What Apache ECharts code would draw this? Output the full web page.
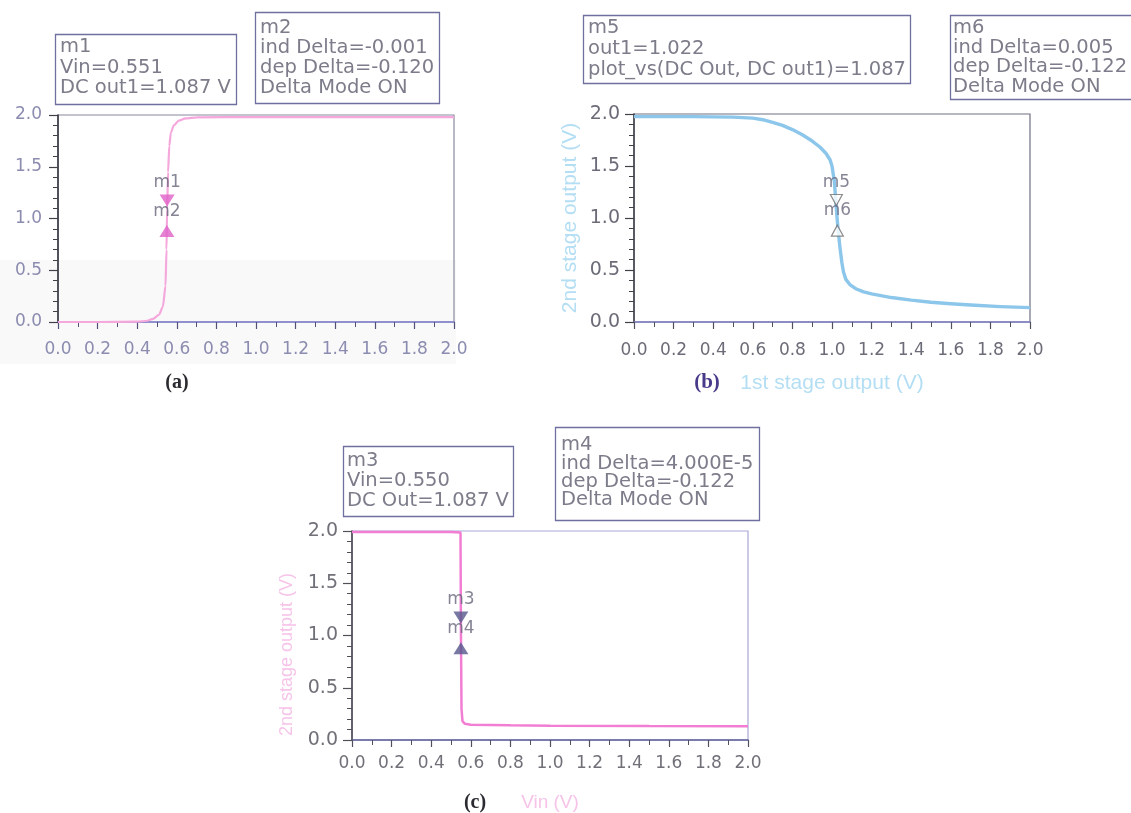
<!DOCTYPE html>
<html><head><meta charset="utf-8">
<script src="https://cdn.jsdelivr.net/npm/echarts@6/dist/echarts.min.js"></script>
<style>html,body{margin:0;padding:0;background:#fff}#c{width:1131px;height:813px}</style>
</head><body><div id="c"></div>
<script>
// ---- data ----
const curveA = [[0,0],[0.2,0],[0.4,0.003],[0.45,0.012],[0.48,0.03],[0.51,0.07],[0.53,0.15],[0.543,0.35],[0.548,0.7],[0.551,1.087],[0.556,1.45],[0.562,1.7],[0.57,1.83],[0.585,1.9],[0.61,1.945],[0.645,1.968],[0.7,1.978],[1.0,1.98],[2.0,1.98]];
const curveB = [[0,1.975],[0.3,1.975],[0.5,1.97],[0.6,1.96],[0.65,1.945],[0.7,1.92],[0.75,1.89],[0.8,1.85],[0.85,1.8],[0.9,1.74],[0.94,1.68],[0.97,1.62],[0.99,1.56],[1.0,1.5],[1.012,1.35],[1.022,1.087],[1.03,0.9],[1.04,0.72],[1.05,0.57],[1.058,0.48],[1.07,0.41],[1.09,0.36],[1.12,0.32],[1.16,0.29],[1.2,0.27],[1.3,0.235],[1.4,0.21],[1.5,0.19],[1.6,0.175],[1.7,0.163],[1.85,0.148],[2.0,0.138]];
const curveC = [[0,1.99],[0.3,1.99],[0.5,1.99],[0.548,1.985],[0.55,1.087],[0.553,0.3],[0.558,0.18],[0.57,0.155],[0.6,0.145],[0.8,0.14],[1.0,0.137],[1.5,0.134],[2.0,0.132]];
const markersA = [[0.551,1.087,'m1','down'],[0.550,0.967,'m2','up']];
const markersB = [[1.022,1.087,'m5','down'],[1.027,0.965,'m6','up']];
const markersC = [[0.550,1.087,'m3','down'],[0.55004,0.965,'m4','up']];
const boxM1 = ['m1','Vin=0.551','DC out1=1.087 V'];
const boxM2 = ['m2','ind Delta=-0.001','dep Delta=-0.120','Delta Mode ON'];
const boxM5 = ['m5','out1=1.022','plot_vs(DC Out, DC out1)=1.087'];
const boxM6 = ['m6','ind Delta=0.005','dep Delta=-0.122','Delta Mode ON'];
const boxM3 = ['m3','Vin=0.550','DC Out=1.087 V'];
const boxM4 = ['m4','ind Delta=4.000E-5','dep Delta=-0.122','Delta Mode ON'];
const captions = ['(a)','(b)','(c)'];
const xNameB = '1st stage output (V)';
const yNameB = '2nd stage output (V)';
const xNameC = 'Vin (V)';
const yNameC = '2nd stage output (V)';

// ---- styling / layout ----
const FONT = 'DejaVu Sans';
function box(lines, left, top, lh, pad) {
  return {
    text: lines.join('\n'), left: left, top: top,
    borderColor: '#7070a0', borderWidth: 1.3, padding: pad,
    textStyle: {fontFamily: FONT, fontSize: 19.5, fontWeight: 'normal', lineHeight: lh, color: '#7c7c8a'}
  };
}
function xAx(gi, o) {
  return {
    type: 'value', gridIndex: gi, min: 0, max: 2, interval: 0.2,
    name: o.name || '', nameLocation: 'middle', nameGap: o.nameGap || 0,
    nameTextStyle: {fontFamily: 'Liberation Sans', fontSize: o.nameSize || 16, color: o.nameColor || '#ccc'},
    axisLine: {show: true, onZero: false, lineStyle: {color: o.lineColor, width: 1.5}},
    axisTick: {show: true, length: 7, lineStyle: {color: o.tickColor, width: 1.2}},
    minorTick: {show: true, splitNumber: 2, length: 5, lineStyle: {color: o.tickColor, width: 1}},
    axisLabel: {margin: o.margin, fontFamily: FONT, fontSize: 17, color: o.labelColor,
      formatter: v => v.toFixed(1), hideOverlap: false},
    splitLine: {show: false}, minorSplitLine: {show: false}
  };
}
function yAx(gi, o) {
  return {
    type: 'value', gridIndex: gi, min: 0, max: 2, interval: 0.5,
    name: o.name || '', nameLocation: 'middle', nameGap: o.nameGap || 0, nameRotate: 90,
    nameTextStyle: {fontFamily: 'Liberation Sans', fontSize: o.nameSize || 16, color: o.nameColor || '#ccc',
      padding: o.namePad || 0},
    axisLine: {show: true, onZero: false, lineStyle: {color: o.lineColor, width: 1.5}},
    axisTick: {show: true, length: 9, lineStyle: {color: o.tickColor, width: 1.2}},
    minorTick: {show: true, splitNumber: 5, length: 5, lineStyle: {color: o.tickColor, width: 1}},
    axisLabel: {margin: o.margin, fontFamily: FONT, fontSize: o.fs || 17, color: o.labelColor,
      formatter: v => v.toFixed(1)},
    splitLine: {show: false}, minorSplitLine: {show: false}
  };
}
function markerSeries(gi, data, fill, stroke, size) {
  return {
    type: 'scatter', xAxisIndex: gi, yAxisIndex: gi, z: 5,
    data: data.map(d => ({
      value: [d[0], d[1]], name: d[2],
      symbolRotate: d[3] === 'down' ? 180 : 0,
      symbolOffset: [0, d[3] === 'down' ? -9 : 9],
      label: {show: true, formatter: d[2], position: 'top', distance: d[3] === 'down' ? 3 : 5,
        fontFamily: FONT, fontSize: 17, color: '#66667a'}
    })),
    symbol: 'triangle', symbolSize: size,
    itemStyle: {color: fill, borderColor: stroke, borderWidth: stroke === 'none' ? 0 : 1.2}
  };
}

const option = {
  animation: false,
  backgroundColor: '#ffffff',
  title: [
    box(boxM1, 55, 34, 20.5, [3, 6, 6, 5]),
    box(boxM2, 255, 12, 20, [6, 6, 6, 5]),
    box(boxM5, 583, 15, 21, [2, 5, 4, 5]),
    box(boxM6, 950, 15, 19.7, [3, 8, 3, 3]),
    box(boxM3, 343, 446, 20, [5, 5, 6, 4]),
    box(boxM4, 555, 428, 18.4, [8, 6, 10, 6])
  ],
  grid: [
    {left: 58, top: 115, width: 396, height: 207, outerBoundsMode: 'none', show: true, borderColor: '#8a8aa0', borderWidth: 1.2, backgroundColor: 'transparent'},
    {left: 634, top: 114, width: 396, height: 208, outerBoundsMode: 'none', show: true, borderColor: '#707084', borderWidth: 1.2, backgroundColor: 'transparent'},
    {left: 352, top: 531, width: 396, height: 209, outerBoundsMode: 'none', show: true, borderColor: '#a8a8d8', borderWidth: 1.2, backgroundColor: 'transparent'}
  ],
  xAxis: [
    xAx(0, {margin: 19, lineColor: '#8080d0', tickColor: '#505078', labelColor: '#8c8cb0'}),
    xAx(1, {margin: 20, lineColor: '#8080c8', tickColor: '#505060', labelColor: '#6c6c78',
      name: xNameB, nameGap: 51, nameSize: 21, nameColor: '#b4def4'}),
    xAx(2, {margin: 15, lineColor: '#606098', tickColor: '#505060', labelColor: '#707078',
      name: xNameC, nameGap: 53, nameSize: 19, nameColor: '#f6c4e8'})
  ],
  yAxis: [
    yAx(0, {margin: 16, lineColor: '#303038', tickColor: '#404048', labelColor: '#8c8cb0'}),
    yAx(1, {margin: 14, fs: 19, lineColor: '#404048', tickColor: '#404048', labelColor: '#6c6c78',
      name: yNameB, nameGap: 53, nameSize: 21, nameColor: '#b4def4'}),
    yAx(2, {margin: 14, fs: 19, lineColor: '#404048', tickColor: '#505058', labelColor: '#707078',
      name: yNameC, nameGap: 56, nameSize: 18, nameColor: '#f6c4e8', namePad: [0, 38, 0, 0]})
  ],
  series: [
    {type: 'line', xAxisIndex: 0, yAxisIndex: 0, data: curveA, showSymbol: false, smooth: 0.25, smoothMonotone: 'x',
      lineStyle: {color: '#f5a8dc', width: 2.2}},
    {type: 'line', xAxisIndex: 1, yAxisIndex: 1, data: curveB, showSymbol: false, smooth: false,
      lineStyle: {color: '#8cc6ea', width: 3.4, join: 'round'}},
    {type: 'line', xAxisIndex: 2, yAxisIndex: 2, data: curveC, showSymbol: false, smooth: false,
      lineStyle: {color: '#f27ed4', width: 2.5}},
    markerSeries(0, markersA, '#e060c8', 'none', [15, 12]),
    markerSeries(1, markersB, '#ffffff', '#707070', [12, 11]),
    markerSeries(2, markersC, '#55588c', 'none', [15, 12])
  ],
  graphic: [
    {type: 'rect', z: -10, silent: true, shape: {x: 0, y: 260, width: 456, height: 104},
      style: {fill: '#f9f9fa'}},
    {type: 'text', x: 177, y: 383, style: {text: captions[0], align: 'center', verticalAlign: 'middle',
      font: 'bold 20px "Liberation Serif"', fill: '#2a2a30'}},
    {type: 'text', x: 707, y: 383, style: {text: captions[1], align: 'center', verticalAlign: 'middle',
      font: 'bold 21px "Liberation Serif"', fill: '#4a3a8a'}},
    {type: 'text', x: 475, y: 803, style: {text: captions[2], align: 'center', verticalAlign: 'middle',
      font: 'bold 20px "Liberation Serif"', fill: '#2a2a30'}}
  ]
};
const chart = echarts.init(document.getElementById('c'), null, {renderer: 'canvas'});
chart.setOption(option);
</script></body></html>
